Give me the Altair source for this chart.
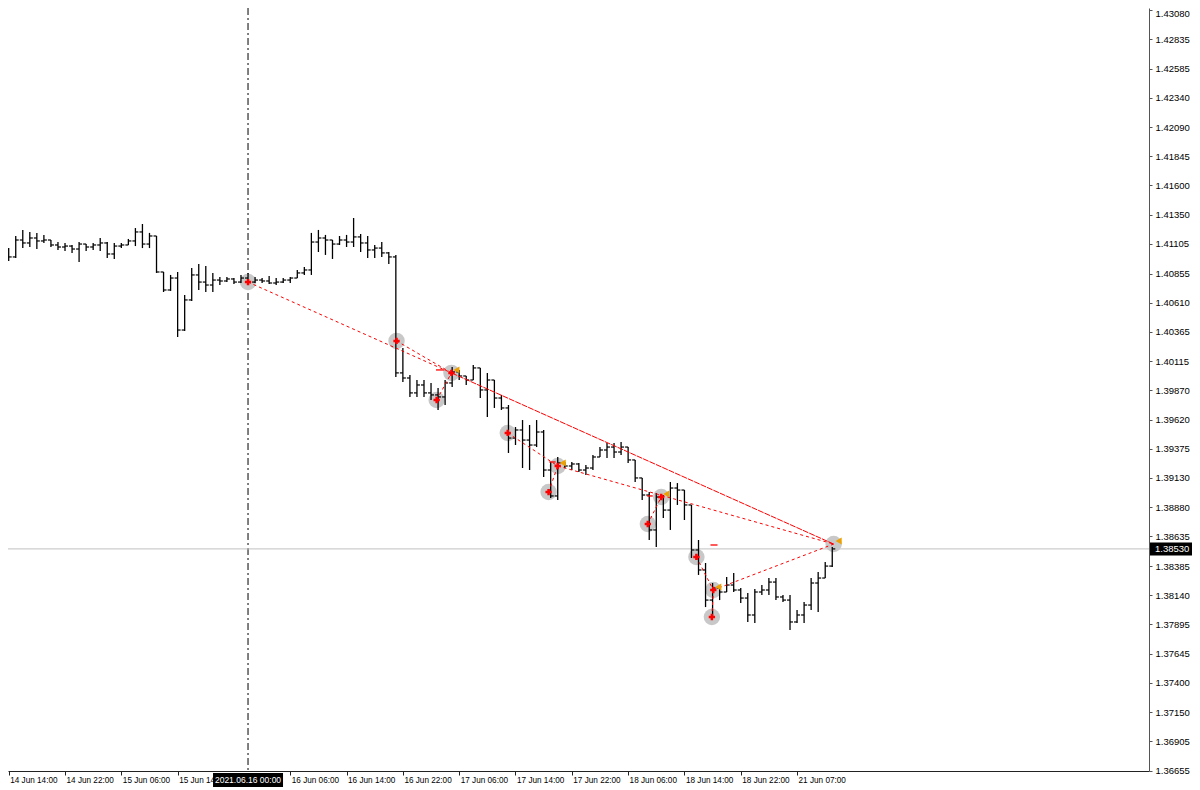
import json
import altair as alt
import pandas as pd

# ---------------- data ----------------
opens = [1.41054, 1.40995, 1.41138, 1.41113, 1.41155, 1.41130, 1.41138, 1.41096, 1.41079, 1.41087,
         1.41062, 1.41104, 1.41079, 1.41096, 1.41113, 1.41020, 1.41087, 1.41096, 1.41130, 1.41206,
         1.41104, 1.41172, 1.40868, 1.40716, 1.40817, 1.40378, 1.40632, 1.40843, 1.40783, 1.40758,
         1.40800, 1.40792, 1.40809, 1.40783, 1.40817, 1.40783, 1.40800, 1.40792, 1.40775, 1.40783,
         1.40800, 1.40817, 1.40860, 1.40885, 1.41121, 1.41155, 1.41138, 1.41104, 1.41138, 1.41121,
         1.41164, 1.41113, 1.41054, 1.41070, 1.41029, 1.40995, 1.40016, 1.39973, 1.39847, 1.39914,
         1.39847, 1.39830, 1.39813, 1.39931, 1.40024, 1.39990, 1.39956, 1.40058, 1.39872, 1.39956,
         1.39804, 1.39720, 1.39466, 1.39534, 1.39449, 1.39407, 1.39517, 1.39196, 1.38977, 1.39256,
         1.39230, 1.39247, 1.39196, 1.39213, 1.39306, 1.39365, 1.39390, 1.39348, 1.39390, 1.39281,
         1.39129, 1.38985, 1.38690, 1.38968, 1.38858, 1.39044, 1.39027, 1.38901, 1.38521, 1.38352,
         1.38098, 1.38200, 1.38166, 1.38225, 1.38183, 1.38115, 1.37972, 1.38166, 1.38183, 1.38250,
         1.38124, 1.38098, 1.37913, 1.37972, 1.38056, 1.38242, 1.38284, 1.38385]
highs = [1.41071, 1.41172, 1.41223, 1.41206, 1.41198, 1.41181, 1.41138, 1.41121, 1.41113, 1.41096,
         1.41121, 1.41104, 1.41113, 1.41155, 1.41121, 1.41113, 1.41113, 1.41147, 1.41239, 1.41273,
         1.41198, 1.41172, 1.40868, 1.40843, 1.40868, 1.40674, 1.40901, 1.40935, 1.40918, 1.40860,
         1.40826, 1.40826, 1.40817, 1.40843, 1.40860, 1.40826, 1.40817, 1.40834, 1.40817, 1.40817,
         1.40826, 1.40885, 1.40910, 1.41198, 1.41223, 1.41181, 1.41138, 1.41172, 1.41181, 1.41324,
         1.41189, 1.41172, 1.41096, 1.41121, 1.41037, 1.41012, 1.40226, 1.39999, 1.39956, 1.39956,
         1.39931, 1.39889, 1.39956, 1.40066, 1.40041, 1.39990, 1.40083, 1.40058, 1.40016, 1.39956,
         1.39830, 1.39745, 1.39559, 1.39618, 1.39576, 1.39618, 1.39534, 1.39264, 1.39306, 1.39264,
         1.39264, 1.39256, 1.39239, 1.39323, 1.39390, 1.39424, 1.39424, 1.39432, 1.39390, 1.39281,
         1.39129, 1.39010, 1.39002, 1.38985, 1.39095, 1.39086, 1.39027, 1.38901, 1.38605, 1.38411,
         1.38242, 1.38225, 1.38293, 1.38327, 1.38200, 1.38158, 1.38191, 1.38225, 1.38284, 1.38284,
         1.38141, 1.38141, 1.38014, 1.38081, 1.38284, 1.38335, 1.38419, 1.38546]
lows = [1.40961, 1.40986, 1.41070, 1.41079, 1.41062, 1.41113, 1.41079, 1.41054, 1.41046, 1.41029,
        1.40952, 1.41046, 1.41054, 1.41046, 1.40986, 1.40978, 1.41070, 1.41096, 1.41087, 1.41070,
        1.41070, 1.40860, 1.40699, 1.40708, 1.40319, 1.40370, 1.40624, 1.40716, 1.40699, 1.40699,
        1.40758, 1.40783, 1.40766, 1.40775, 1.40758, 1.40775, 1.40775, 1.40766, 1.40758, 1.40775,
        1.40775, 1.40817, 1.40843, 1.40843, 1.41037, 1.41012, 1.40978, 1.41096, 1.41079, 1.41079,
        1.41037, 1.40986, 1.40986, 1.40995, 1.40935, 1.39982, 1.39939, 1.39813, 1.39813, 1.39813,
        1.39787, 1.39703, 1.39745, 1.39897, 1.39956, 1.39914, 1.39956, 1.39804, 1.39643, 1.39720,
        1.39703, 1.39340, 1.39407, 1.39213, 1.39196, 1.39390, 1.39137, 1.38960, 1.38943, 1.39213,
        1.39196, 1.39179, 1.39154, 1.39196, 1.39306, 1.39298, 1.39298, 1.39323, 1.39256, 1.39095,
        1.38943, 1.38605, 1.38546, 1.38791, 1.38690, 1.38901, 1.38774, 1.38453, 1.38310, 1.38039,
        1.37955, 1.38098, 1.38166, 1.38166, 1.38073, 1.37913, 1.37905, 1.38141, 1.38141, 1.38098,
        1.38081, 1.37845, 1.37905, 1.37905, 1.38014, 1.37997, 1.38284, 1.38377]
closes = [1.40995, 1.41138, 1.41113, 1.41155, 1.41130, 1.41138, 1.41096, 1.41079, 1.41087, 1.41062,
          1.41104, 1.41079, 1.41096, 1.41113, 1.41020, 1.41087, 1.41096, 1.41130, 1.41206, 1.41104,
          1.41172, 1.40868, 1.40716, 1.40817, 1.40378, 1.40632, 1.40843, 1.40783, 1.40758, 1.40800,
          1.40792, 1.40809, 1.40783, 1.40817, 1.40783, 1.40800, 1.40792, 1.40775, 1.40783, 1.40800,
          1.40817, 1.40860, 1.40885, 1.41121, 1.41155, 1.41138, 1.41104, 1.41138, 1.41121, 1.41164,
          1.41113, 1.41054, 1.41070, 1.41029, 1.40995, 1.40016, 1.39973, 1.39847, 1.39914, 1.39847,
          1.39830, 1.39813, 1.39931, 1.40024, 1.39990, 1.39956, 1.40058, 1.39872, 1.39956, 1.39804,
          1.39720, 1.39466, 1.39534, 1.39449, 1.39407, 1.39517, 1.39196, 1.38977, 1.39256, 1.39230,
          1.39247, 1.39196, 1.39213, 1.39306, 1.39365, 1.39390, 1.39348, 1.39390, 1.39281, 1.39129,
          1.38985, 1.38690, 1.38968, 1.38858, 1.39044, 1.39027, 1.38901, 1.38521, 1.38352, 1.38098,
          1.38200, 1.38166, 1.38225, 1.38183, 1.38115, 1.37972, 1.38166, 1.38183, 1.38250, 1.38124,
          1.38098, 1.37913, 1.37972, 1.38056, 1.38242, 1.38284, 1.38385, 1.38530]
bar_index = list(range(len(opens)))

# time-axis labels (the 15 Jun 22:00 one sits under the cursor box and is not shown)
time_labels = ["14 Jun 14:00", "14 Jun 22:00", "15 Jun 06:00", "15 Jun 14:00",
               "16 Jun 06:00", "16 Jun 14:00", "16 Jun 22:00", "17 Jun 06:00", "17 Jun 14:00",
               "17 Jun 22:00", "18 Jun 06:00", "18 Jun 14:00", "18 Jun 22:00", "21 Jun 07:00"]
time_label_bars = [0, 8, 16, 24, 40, 48, 56, 64, 72, 80, 88, 96, 104, 112]

price_ticks = [1.43080, 1.42835, 1.42585, 1.42340, 1.42090, 1.41845, 1.41600, 1.41350, 1.41105,
               1.40855, 1.40610, 1.40365, 1.40115, 1.39870, 1.39620, 1.39375, 1.39130, 1.38880,
               1.38635, 1.38385, 1.38140, 1.37895, 1.37645, 1.37400, 1.37150, 1.36905, 1.36655]

current_price = 1.38530
cursor_bar = 34
cursor_label = "2021.06.16 00:00"

# trade markers
marker_bar = [34, 55.1, 62.9, 60.8, 70.9, 78, 76.7, 90.8, 92.7, 97.7, 100.1, 99.9, 117.2]
marker_price = [1.40783, 1.40286, 1.40016, 1.39787, 1.39509, 1.39230, 1.39010, 1.38740,
                1.38968, 1.38462, 1.38183, 1.37955, 1.38571]
marker_plus = [True, True, True, True, True, True, True, True, True, True, True, True, False]
marker_exit = [False, False, True, False, False, True, False, False, True, False, True, False, True]

# connecting lines (marker numbers)
seg_from = [0, 1, 3, 4, 6, 5, 7, 9, 11, 10, 2]
seg_to = [2, 2, 2, 5, 5, 12, 8, 10, 10, 12, 12]
seg_fine = [False, False, False, False, False, False, False, False, False, False, True]

# short level dashes
lvl_bar_from = [60.7, 76.8, 90.7, 99.7]
lvl_bar_to = [61.9, 77.7, 91.5, 100.7]
lvl_price = [1.40041, 1.39264, 1.38977, 1.38563]

# ---------------- chart ----------------
W, H = 1141, 763
FONT = "Liberation Sans"

bars = pd.DataFrame({"bar": bar_index, "open": opens, "high": highs, "low": lows, "close": closes})
markers = pd.DataFrame({"bar": marker_bar, "price": marker_price, "plus": marker_plus, "exit": marker_exit})
segs = pd.DataFrame({
    "x1": [marker_bar[a] for a in seg_from], "y1": [marker_price[a] for a in seg_from],
    "x2": [marker_bar[b] for b in seg_to], "y2": [marker_price[b] for b in seg_to],
    "fine": seg_fine,
})
lvls = pd.DataFrame({"x1": lvl_bar_from, "x2": lvl_bar_to, "price": lvl_price})
cursor = pd.DataFrame({"bar": [cursor_bar], "label": [cursor_label]})
cur_price = pd.DataFrame({"price": [current_price], "label": [f"{current_price:.5f}"]})

xs = alt.Scale(domain=[-0.0994, 162.0], nice=False, zero=False)
ys = alt.Scale(domain=[1.366548, 1.430969], nice=False, zero=False)

label_expr = f"{json.dumps(time_labels)}[indexof({json.dumps(time_label_bars)}, datum.value)]"
x_axis = alt.Axis(values=time_label_bars, labelExpr=label_expr, orient="bottom", title=None,
                  grid=False, domainColor="#222222", tickColor="#222222", tickSize=4,
                  labelAlign="left", labelBaseline="top", labelPadding=1, labelOffset=1,
                  labelFont=FONT, labelFontSize=8.2, labelColor="#000000",
                  labelFlush=False, labelOverlap=False)
y_axis = alt.Axis(values=price_ticks, format=".5f", orient="right", title=None, grid=False,
                  domainColor="#555555", tickColor="#555555", tickSize=3, labelPadding=3,
                  labelFont=FONT, labelFontSize=9.5, labelColor="#000000", labelOverlap=False,
                  labelFlush=False,
                  labelOffset={"condition": {"test": "datum.value > 1.4307", "value": 3}, "value": 0})


def X(f):
    return alt.X(f, type="quantitative", scale=xs, axis=x_axis)


def Y(f):
    return alt.Y(f, type="quantitative", scale=ys, axis=y_axis)


cursor_line = alt.Chart(cursor).mark_rule(color="black", strokeWidth=1, strokeDash=[7, 3, 2, 3]).encode(x=X("bar"))
price_line = alt.Chart(cur_price).mark_rule(color="#c0c0c0", strokeWidth=1).encode(y=Y("price"))

circles = alt.Chart(markers).mark_point(shape="circle", filled=True, size=270, color="#c8c8c8",
                                        opacity=1).encode(x=X("bar"), y=Y("price"))

hl = alt.Chart(bars).mark_rule(color="black", strokeWidth=1.3, clip=True).encode(
    x=X("bar"), y=Y("low"), y2="high")
op = alt.Chart(bars).mark_rule(color="black", strokeWidth=1.2, clip=True, xOffset=-3, x2Offset=0).encode(
    x=X("bar"), x2="bar", y=Y("open"))
cl = alt.Chart(bars).mark_rule(color="black", strokeWidth=1.2, clip=True, xOffset=0, x2Offset=3).encode(
    x=X("bar"), x2="bar", y=Y("close"))

seg_dash = alt.Chart(segs).transform_filter("!datum.fine").mark_rule(
    color="#ff0000", strokeWidth=1, strokeDash=[3, 3]).encode(x=X("x1"), y=Y("y1"), x2="x2", y2="y2")
seg_solid = alt.Chart(segs).transform_filter("datum.fine").mark_rule(
    color="#ff0000", strokeWidth=1, strokeDash=[6, 1]).encode(x=X("x1"), y=Y("y1"), x2="x2", y2="y2")

levels = alt.Chart(lvls).mark_rule(color="#ff0000", strokeWidth=1.3).encode(x=X("x1"), x2="x2", y=Y("price"))

pluses = alt.Chart(markers).transform_filter("datum.plus").mark_point(
    shape="cross", filled=True, size=40, color="#ff0000", opacity=1).encode(x=X("bar"), y=Y("price"))
exits = alt.Chart(markers).transform_filter("datum.exit").mark_point(
    shape="triangle-left", filled=True, size=48, color="#eea000", opacity=1, xOffset=5, yOffset=-3).encode(
    x=X("bar"), y=Y("price"))

cursor_box = alt.Chart(cursor).mark_rect(color="black", xOffset=-35, x2Offset=35).encode(
    x=X("bar"), x2="bar", y=alt.value(H + 2), y2=alt.value(H + 16))
cursor_text = alt.Chart(cursor).mark_text(color="white", font=FONT, fontSize=8.5, align="center",
                                          baseline="middle").encode(
    x=X("bar"), y=alt.value(H + 9), text="label:N")

price_box = alt.Chart(cur_price).mark_rect(color="black", yOffset=-6.5, y2Offset=6.5).encode(
    y=Y("price"), y2="price", x=alt.value(W + 1), x2=alt.value(W + 43))
price_text = alt.Chart(cur_price).mark_text(color="white", font=FONT, fontSize=9.5, align="left",
                                            baseline="middle").encode(
    y=Y("price"), x=alt.value(W + 6), text="label:N")

chart = alt.layer(
    cursor_line, price_line, circles, hl, op, cl, seg_dash, seg_solid, levels, pluses, exits,
    cursor_box, cursor_text, price_box, price_text,
).properties(
    width=W, height=H,
    autosize=alt.AutoSizeParams(type="none"),
    padding={"left": 0, "top": 0, "right": 43, "bottom": 20},
    background="white",
).configure_view(strokeWidth=0)

chart.save("out.html", embed_options={"renderer": "svg", "actions": False})
